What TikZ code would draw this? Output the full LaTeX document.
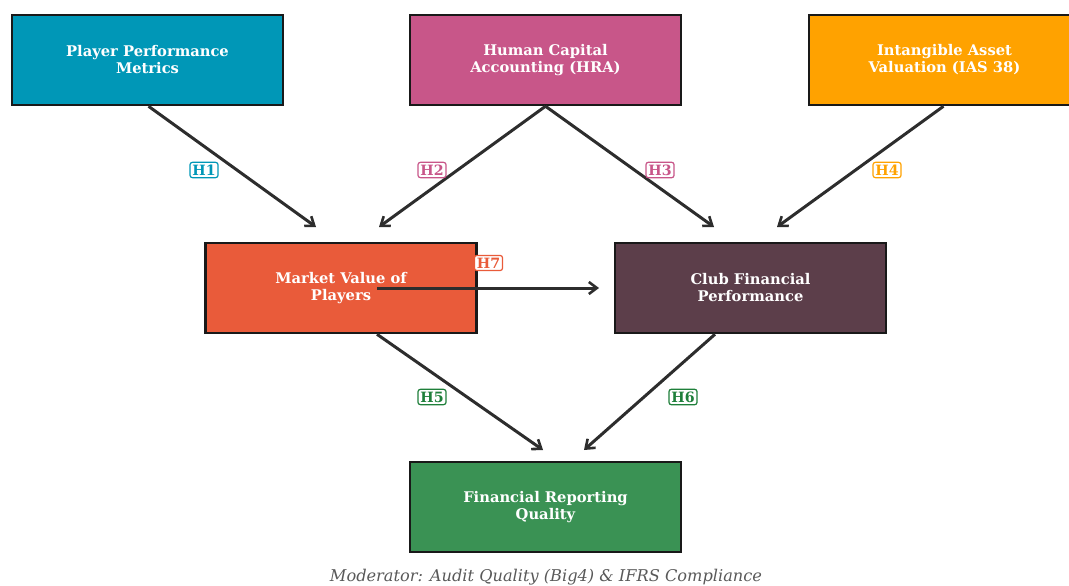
\documentclass[tikz,border=0pt]{standalone}
\usepackage{fontspec}
\setmainfont{DejaVu Serif}
\usetikzlibrary{arrows.meta,calc}
\definecolor{cA}{HTML}{0097B7}
\definecolor{cB}{HTML}{C85689}
\definecolor{cC}{HTML}{FFA200}
\definecolor{cD}{HTML}{E95B3A}
\definecolor{cE}{HTML}{5C3E4A}
\definecolor{cF}{HTML}{3A9254}
\definecolor{cG}{HTML}{1E7F3A}
\definecolor{edge}{HTML}{2D2D2D}
\tikzset{
  box/.style={draw=black!90, line width=2.5pt, minimum width=271pt, minimum height=90pt,
    text=white, font=\fontsize{14.7}{17}\selectfont\bfseries, align=center, inner sep=0pt},
  hlab/.style={draw=#1, text=#1, fill=white, rounded corners=2.5pt, line width=1.2pt,
    font=\fontsize{14.2}{16}\selectfont\bfseries, inner sep=2.4pt},
  conn/.style={draw=edge, line width=3pt, -{Straight Barb[length=8pt,width=12pt,line width=2.6pt]}}
}
\begin{document}
\begin{tikzpicture}[x=1pt,y=-1pt]
\useasboundingbox (0,0) rectangle (1069,586);
\clip (0,0) rectangle (1069,586);
\node[box, fill=cA] (ppm) at (147.5,60) {Player Performance\\Metrics};
\node[box, fill=cB] (hra) at (545.5,60) {Human Capital\\Accounting (HRA)};
\node[box, fill=cC] (iav) at (944.5,60) {Intangible Asset\\Valuation (IAS 38)};
\node[box, fill=cD] (mvp) at (341,288) {Market Value of\\Players};
\node[box, fill=cE] (cfp) at (750.5,288) {Club Financial\\Performance};
\node[box, fill=cF] (frq) at (545.5,507) {Financial Reporting\\Quality};
\coordinate (t1) at (316,227);
\coordinate (t2) at (379,227);
\coordinate (t3) at (714,227);
\coordinate (t4) at (777,227);
\coordinate (t7) at (599,288);
\coordinate (t5) at (543,450);
\coordinate (t6) at (584,450);
\coordinate (s7) at (377,288);
\draw[conn] ($(ppm.south)+(1,0)$) -- (t1);
\draw[conn] (hra.south) -- (t2);
\draw[conn] (hra.south) -- (t3);
\draw[conn] ($(iav.south)+(-1,0)$) -- (t4);
\draw[conn] (s7) -- (t7);
\draw[conn] ($(mvp.south)+(36,0)$) -- (t5);
\draw[conn] ($(cfp.south)+(-35.5,0)$) -- (t6);
\node[hlab=cA] (h1) at (204,170) {H1};
\node[hlab=cB] (h2) at (432,170) {H2};
\node[hlab=cB] (h3) at (660,170) {H3};
\node[hlab=cC] (h4) at (887,170) {H4};
\node[hlab=cD] (h7) at (488.5,263) {H7};
\node[hlab=cG] (h5) at (432,397) {H5};
\node[hlab=cG] (h6) at (683,397) {H6};
\node[text=black!65, font=\fontsize{16.2}{18}\selectfont\itshape] (mod) at (546,577) {Moderator: Audit Quality (Big4) \& IFRS Compliance};
\end{tikzpicture}
\end{document}
